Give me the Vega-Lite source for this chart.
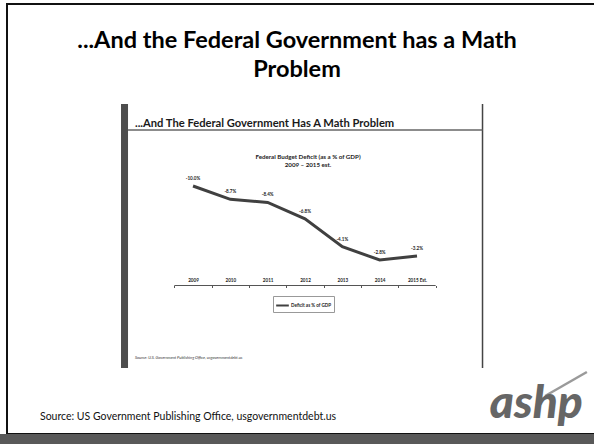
{
  "$schema": "https://vega.github.io/schema/vega-lite/v6.json",
  "width": 588,
  "height": 430,
  "autosize": "none",
  "padding": {"left": 7, "top": 4, "right": 0, "bottom": 10},
  "background": "white",
  "config": {
    "view": {"stroke": "#111111", "strokeWidth": 2},
    "font": "Lato",
    "legend": {
      "orient": "none", "legendX": 266, "legendY": 292,
      "strokeColor": "#999999", "padding": 2, "symbolType": "stroke",
      "symbolSize": 160, "symbolStrokeWidth": 2, "labelFontSize": 4.6,
      "labelFont": "Lato", "labelFontWeight": "bold", "labelColor": "#222222", "labelOffset": 1, "title": null
    }
  },
  "title": {
    "text": ["...And the Federal Government has a Math", "Problem"],
    "font": "Lato", "fontSize": 23.5, "fontWeight": "bold", "color": "#000000",
    "anchor": "middle", "frame": "group", "baseline": "top", "offset": -77, "lineHeight": 29, "dx": -4
  },
  "resolve": {"axis": {"x": "independent", "y": "independent"}},
  "data": {
    "values": [
      {"year": 2009, "deficit": -0.100, "label": "-10.0%"},
      {"year": 2010, "deficit": -0.087, "label": "-8.7%"},
      {"year": 2011, "deficit": -0.084, "label": "-8.4%"},
      {"year": 2012, "deficit": -0.068, "label": "-6.8%"},
      {"year": 2013, "deficit": -0.041, "label": "-4.1%"},
      {"year": 2014, "deficit": -0.028, "label": "-2.8%"},
      {"year": 2015, "deficit": -0.032, "label": "-3.2%"}
    ]
  },
  "layer": [
    {
      "data": {"values": [{}]},
      "mark": {"type": "rect", "color": "#595959"},
      "encoding": {
        "x": {"datum": 2003.7, "axis": null}, "x2": {"datum": 2019.9},
        "y": {"datum": 0.1413, "axis": null}, "y2": {"datum": 0.1535}
      }
    },
    {
      "data": {"values": [{}]},
      "mark": {"type": "rect", "color": "#4d4d4d"},
      "encoding": {
        "x": {"datum": 2007.071, "axis": null}, "x2": {"datum": 2007.259},
        "y": {"datum": -0.17978, "axis": null}, "y2": {"datum": 0.07708}
      }
    },
    {
      "data": {"values": [{}]},
      "mark": {"type": "rule", "color": "#444444", "strokeWidth": 1.5},
      "encoding": {
        "x": {"datum": 2016.755, "axis": null},
        "y": {"datum": -0.17978, "axis": null}, "y2": {"datum": 0.07708}
      }
    },
    {
      "data": {"values": [{}]},
      "mark": {"type": "rule", "color": "#666666", "strokeWidth": 1.5},
      "encoding": {
        "x": {"datum": 2007.259, "axis": null}, "x2": {"datum": 2016.755},
        "y": {"datum": -0.15449, "axis": null}
      }
    },
    {
      "data": {"values": [{}]},
      "mark": {"type": "text", "text": "...And The Federal Government Has A Math Problem", "align": "left", "baseline": "alphabetic", "font": "Lato", "fontSize": 11.2, "fontWeight": "bold", "color": "#1a1a1a"},
      "encoding": {
        "x": {"datum": 2007.446, "axis": null},
        "y": {"datum": -0.1574, "axis": null}
      }
    },
    {
      "data": {"values": [{}]},
      "mark": {"type": "text", "text": ["Federal Budget Deficit (as a % of GDP)", "2009 – 2015 est."], "align": "center", "baseline": "top", "font": "Lato", "fontSize": 6.2, "fontWeight": "bold", "color": "#222222", "lineHeight": 7.5},
      "encoding": {
        "x": {"datum": 2012.081, "axis": null},
        "y": {"datum": -0.13113, "axis": null}
      }
    },
    {
      "data": {"values": [{}]},
      "mark": {"type": "rule", "color": "#555555", "strokeWidth": 1},
      "encoding": {
        "x": {"datum": 2008.5, "axis": null}, "x2": {"datum": 2015.5},
        "y": {"datum": -0.00319, "axis": null}
      }
    },
    {
      "mark": {"type": "line", "strokeWidth": 3},
      "encoding": {
        "x": {
          "field": "year", "type": "quantitative",
          "scale": {"domain": [2004.017, 2019.768], "nice": false, "zero": false},
          "axis": {
            "title": null, "domain": false, "grid": false,
            "values": [2008.5, 2009.5, 2010.5, 2011.5, 2012.5, 2013.5, 2014.5, 2015.5],
            "labelExpr": "datum.value > 2015 ? '' : (datum.value > 2014 ? '2015 Est.' : format(datum.value + 0.5, 'd'))",
            "labelOffset": 18.67, "offset": -148.5, "tickSize": 2, "tickColor": "#555555",
            "labelPadding": -10, "labelBaseline": "top", "labelFont": "Lato", "labelFontSize": 4.6,
            "labelFontWeight": "bold", "labelColor": "#222222", "labelFlush": false, "labelOverlap": false
          }
        },
        "y": {
          "field": "deficit", "type": "quantitative",
          "scale": {"domain": [-0.27708, 0.14129], "nice": false, "zero": false, "reverse": true},
          "axis": null
        },
        "color": {"datum": "Deficit as % of GDP", "scale": {"range": ["#404040"]}}
      }
    },
    {
      "mark": {"type": "text", "dy": -7, "font": "Lato", "fontSize": 4.6, "fontWeight": "bold", "color": "#222222"},
      "encoding": {
        "x": {"field": "year", "type": "quantitative", "axis": null},
        "y": {"field": "deficit", "type": "quantitative", "axis": null},
        "text": {"field": "label"}
      }
    },
    {
      "data": {"values": [{}]},
      "mark": {"type": "text", "text": "Source:  U.S. Government Publishing Office, usgovernmentdebt.us", "align": "left", "baseline": "middle", "font": "Lato", "fontSize": 4, "fontStyle": "italic", "color": "#333333"},
      "encoding": {
        "x": {"datum": 2007.446, "axis": null},
        "y": {"datum": 0.06735, "axis": null}
      }
    },
    {
      "data": {"values": [{}]},
      "mark": {"type": "text", "text": "Source: US Government Publishing Office, usgovernmentdebt.us", "align": "left", "baseline": "middle", "font": "Lato", "fontSize": 10.5, "color": "#111111"},
      "encoding": {
        "x": {"datum": 2004.901, "axis": null},
        "y": {"datum": 0.12475, "axis": null}
      }
    },
    {
      "data": {"values": [{}]},
      "mark": {"type": "rule", "color": "#9a9a9a", "strokeWidth": 2.5},
      "encoding": {
        "x": {"datum": 2018.43, "axis": null}, "x2": {"datum": 2019.55},
        "y": {"datum": 0.1043, "axis": null}, "y2": {"datum": 0.0810}
      }
    },
    {
      "data": {"values": [{}]},
      "mark": {"type": "text", "text": "ashp", "align": "left", "baseline": "alphabetic", "font": "Lato", "fontSize": 46, "fontWeight": 900, "fontStyle": "italic", "color": "#666666"},
      "encoding": {
        "x": {"datum": 2016.95, "axis": null},
        "y": {"datum": 0.1258, "axis": null}
      }
    }
  ]
}
